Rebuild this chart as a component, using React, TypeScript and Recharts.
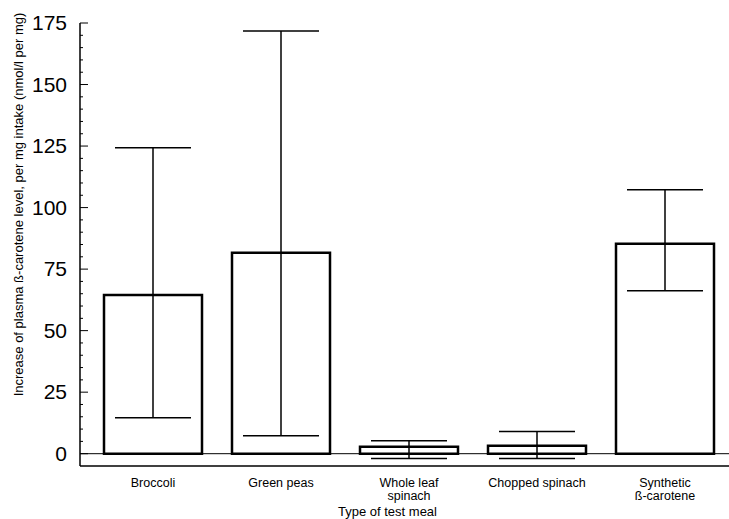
import React from 'react';
import {
  Bar,
  BarChart,
  ErrorBar,
  ReferenceLine,
  XAxis,
  YAxis,
} from 'recharts';

// 检测餐类型
const meals = [
  'Broccoli',
  'Green peas',
  'Whole leaf\nspinach',
  'Chopped spinach',
  'Synthetic\nß-carotene',
];

// 每 mg 摄入量的血浆 β-胡萝卜素增量 (均值)
const means = [64.5, 81.6, 2.8, 3.2, 85.3];
// 误差线：下端 / 上端 (绝对值)
const lowerEnds = [14.6, 7.3, -2, -2, 66.2];
const upperEnds = [124.3, 171.7, 5.3, 9, 107.2];

const yTicks = Array.from({ length: 36 }, (_, i) => i * 5);

const data = meals.map((meal, i) => ({
  meal,
  value: means[i],
  err: [means[i] - lowerEnds[i], upperEnds[i] - means[i]],
}));

const FONT = 'Liberation Sans, Arial, sans-serif';

const YTick = (props: any) => {
  const { x, y, payload } = props;
  const major = payload.value % 25 === 0;
  return (
    <g>
      <line x1={x} x2={x + (major ? 8 : 3)} y1={y} y2={y} stroke='#000' strokeWidth={1} />
      {major && (
        <text
          x={x - 13}
          y={y}
          dy={7}
          textAnchor='end'
          fontSize={21}
          fontFamily={FONT}
          fill='#000'
        >
          {payload.value}
        </text>
      )}
    </g>
  );
};

const XTick = (props: any) => {
  const { x, y, payload } = props;
  const lines = String(payload.value).split('\n');
  return (
    <text x={x} y={y} textAnchor='middle' fontSize={12.5} fontFamily={FONT} fill='#000'>
      {lines.map((l, i) => (
        <tspan key={i} x={x} dy={13}>
          {l}
        </tspan>
      ))}
    </text>
  );
};

export default function App() {
  return (
    <div style={{ position: 'absolute', left: 0, top: 0, background: '#fff' }}>
      <BarChart
        width={729}
        height={519}
        data={data}
        margin={{ top: 23, right: 0, bottom: 0, left: 0 }}
        barSize={98}
      >
        <XAxis
          dataKey='meal'
          interval={0}
          tick={<XTick />}
          tickLine={false}
          axisLine={{ stroke: '#000', strokeWidth: 1.5 }}
          padding={{ left: 9, right: 0 }}
          height={53}
          label={{
            value: 'Type of test meal',
            position: 'insideBottom',
            offset: 3,
            fontSize: 13,
            fontFamily: FONT,
            fill: '#000',
            dx: -17,
          }}
        />
        <YAxis
          type='number'
          domain={[-5, 175]}
          ticks={yTicks}
          interval={0}
          width={80}
          tickSize={0}
          tickMargin={0}
          tickLine={false}
          tick={<YTick />}
          axisLine={{ stroke: '#000', strokeWidth: 1.5 }}
          label={{
            value: 'Increase of plasma ß-carotene level, per mg intake (nmol/l per mg)',
            angle: -90,
            position: 'insideLeft',
            offset: 18,
            fontSize: 13,
            fontFamily: FONT,
            fill: '#000',
            dy: -40,
            style: { textAnchor: 'middle' },
          }}
        />
        <ReferenceLine y={0} stroke='#000' strokeWidth={1} />
        <Bar
          dataKey='value'
          fill='#fff'
          stroke='#000'
          strokeWidth={2.5}
          isAnimationActive={false}
        >
          <ErrorBar
            dataKey='err'
            width={38}
            stroke='#000'
            strokeWidth={1.5}
            direction='y'
          />
        </Bar>
      </BarChart>
    </div>
  );
}
